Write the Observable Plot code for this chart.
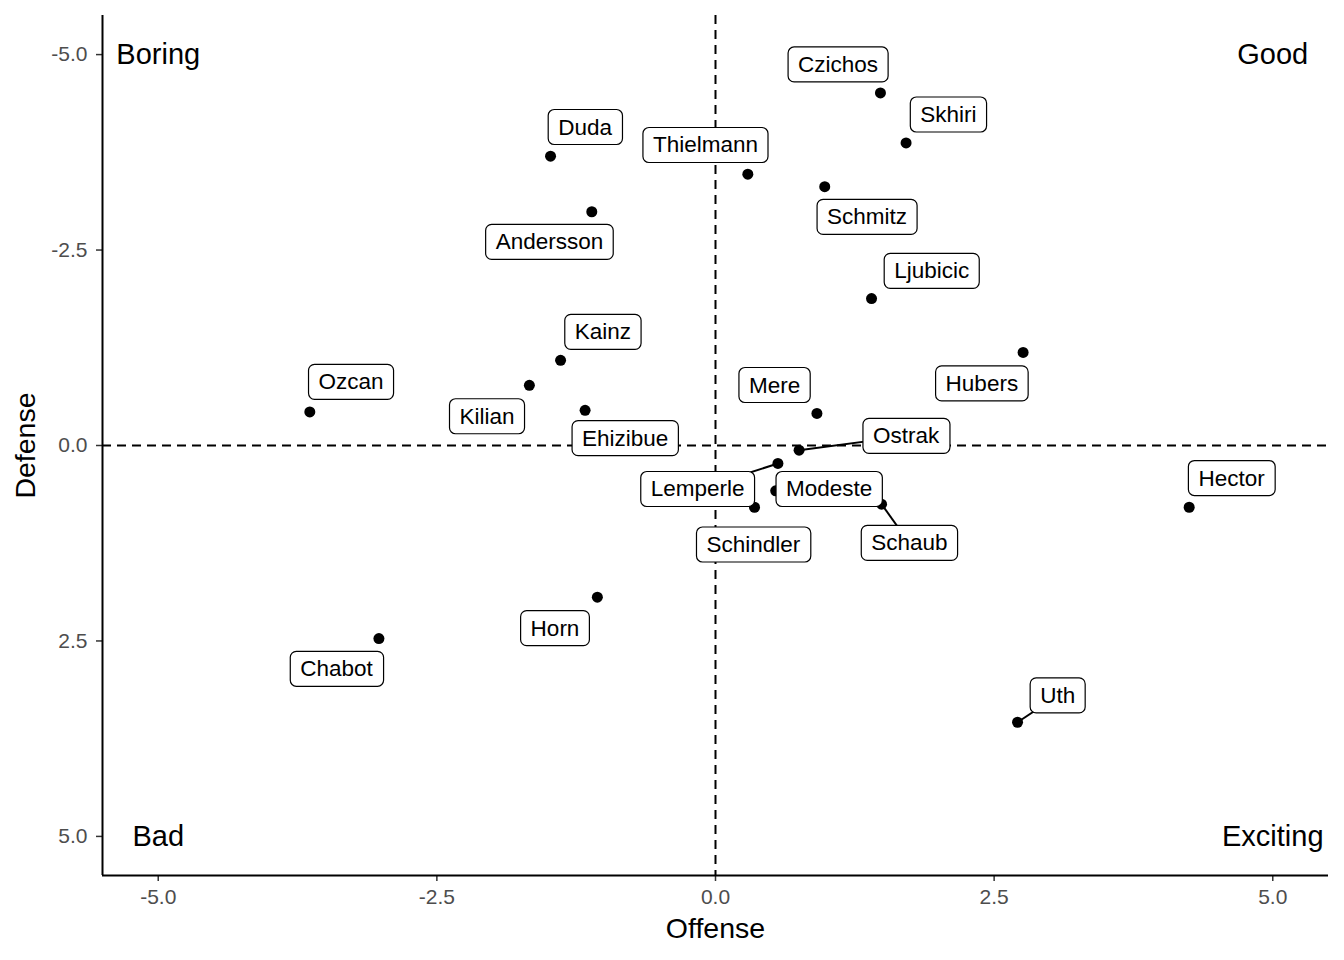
<!DOCTYPE html>
<html>
<head>
<meta charset="utf-8">
<script src="https://cdn.jsdelivr.net/npm/d3@7"></script>
<script src="https://cdn.jsdelivr.net/npm/@observablehq/plot@0.6"></script>
<style>
  html, body { margin: 0; padding: 0; background: #fff; }
  svg { font-family: "Liberation Sans", Arial, Helvetica, sans-serif; }
  g[aria-label$="tick label"] { font-size: 21px; }
</style>
</head>
<body>
<div id="chart"></div>
<script>
// Player values
const players = ["Czichos","Skhiri","Duda","Thielmann","Schmitz","Andersson","Ljubicic","Hubers","Kainz","Kilian","Ozcan","Ehizibue","Mere","Ostrak","Lemperle","Modeste","Schindler","Schaub","Hector","Horn","Chabot","Uth"];
const offense = [1.48, 1.71, -1.48, 0.29, 0.98, -1.11, 1.40, 2.76, -1.39, -1.67, -3.64, -1.17, 0.91, 0.75, 0.56, 0.54, 0.35, 1.49, 4.25, -1.06, -3.02, 2.71];
const defense = [-4.51, -3.87, -3.70, -3.47, -3.31, -2.99, -1.88, -1.19, -1.09, -0.77, -0.43, -0.45, -0.41, 0.06, 0.23, 0.58, 0.79, 0.75, 0.79, 1.94, 2.47, 3.54];
// repelled label positions (data units)
const labelOffense = [1.10, 2.09, -1.17, -0.09, 1.36, -1.49, 1.94, 2.39, -1.01, -2.05, -3.27, -0.81, 0.53, 1.71, -0.16, 1.02, 0.34, 1.74, 4.63, -1.44, -3.40, 3.07];
const labelDefense = [-4.87, -4.23, -4.07, -3.84, -2.92, -2.60, -2.23, -0.79, -1.45, -0.37, -0.81, -0.09, -0.77, -0.12, 0.56, 0.56, 1.27, 1.25, 0.42, 2.34, 2.86, 3.20];
const segmentPlayers = ["Ostrak","Lemperle","Schaub","Uth"];

const quadrantNames = ["Boring","Good","Bad","Exciting"];
const quadrantOffense = [-5, 5, -5, 5];
const quadrantDefense = [-5, -5, 5, 5];

const xTicks = [-5, -2.5, 0, 2.5, 5];
const yTicks = [-5, -2.5, 0, 2.5, 5];

const data = players.map((name, i) => ({
  name, offense: offense[i], defense: defense[i],
  lx: labelOffense[i], ly: labelDefense[i]
}));
const segData = data.filter(d => segmentPlayers.includes(d.name));
const quads = quadrantNames.map((name, i) => ({name, x: quadrantOffense[i], y: quadrantDefense[i]}));
const fmt = d => d.toFixed(1);

const plot = Plot.plot({
  width: 1344,
  height: 960,
  marginLeft: 102,
  marginTop: 15,
  marginRight: 16,
  marginBottom: 85,
  style: {fontFamily: "'Liberation Sans', Arial, Helvetica, sans-serif", background: "#fff"},
  x: {domain: [-5.5, 5.5]},
  y: {domain: [-5.5, 5.5], reverse: true},
  marks: [
    Plot.axisX(xTicks, {anchor: "bottom", tickSize: 6, tickPadding: 8, fontSize: 21, stroke: "#333", fill: "#4d4d4d", strokeWidth: 1.5, tickFormat: fmt, label: null}),
    Plot.axisY(yTicks, {anchor: "left", tickSize: 6, tickPadding: 9, fontSize: 21, stroke: "#333", fill: "#4d4d4d", strokeWidth: 1.5, tickFormat: fmt, label: null}),
    Plot.ruleX([-5.5], {stroke: "#000", strokeWidth: 2}),
    Plot.ruleY([5.5], {stroke: "#000", strokeWidth: 2}),
    Plot.ruleX([0], {stroke: "#000", strokeWidth: 2, strokeDasharray: "9,6"}),
    Plot.ruleY([0], {stroke: "#000", strokeWidth: 2, strokeDasharray: "9,6"}),
    Plot.text(["Offense"], {frameAnchor: "bottom", dy: 62, fontSize: 28.5, fill: "#000", textAnchor: "middle"}),
    Plot.text(["Defense"], {frameAnchor: "left", dx: -77, rotate: -90, fontSize: 28.5, fill: "#000", textAnchor: "middle"}),
    Plot.text(quads, {x: "x", y: "y", text: "name", fontSize: 29, fill: "#000"}),
    Plot.link(segData, {x1: "offense", y1: "defense", x2: "lx", y2: "ly", stroke: "#000", strokeWidth: 2}),
    Plot.dot(data, {x: "offense", y: "defense", r: 5.5, fill: "#000", stroke: "none"}),
    Plot.text(data, {x: "lx", y: "ly", text: "name", fontSize: 22.5, fill: "#000"})
  ]
});

document.getElementById("chart").appendChild(plot);

// draw label boxes behind label texts
const groups = Array.from(plot.querySelectorAll('g[aria-label="text"]'));
const labelGroup = groups.find(g => g.querySelectorAll("text").length === players.length);
if (labelGroup) {
  const ns = "http://www.w3.org/2000/svg";
  Array.from(labelGroup.querySelectorAll("text")).forEach(t => {
    const b = t.getBBox();
    const padX = 10, h = 35;
    const cy = b.y + b.height / 2;
    const r = document.createElementNS(ns, "rect");
    r.setAttribute("x", b.x - padX);
    r.setAttribute("y", cy - h / 2);
    r.setAttribute("width", b.width + 2 * padX);
    r.setAttribute("height", h);
    r.setAttribute("rx", 6);
    r.setAttribute("fill", "#fff");
    r.setAttribute("stroke", "#000");
    r.setAttribute("stroke-width", 1.2);
    const tr = t.getAttribute("transform");
    if (tr) r.setAttribute("transform", tr);
    labelGroup.insertBefore(r, t);
  });
}
</script>
</body>
</html>
